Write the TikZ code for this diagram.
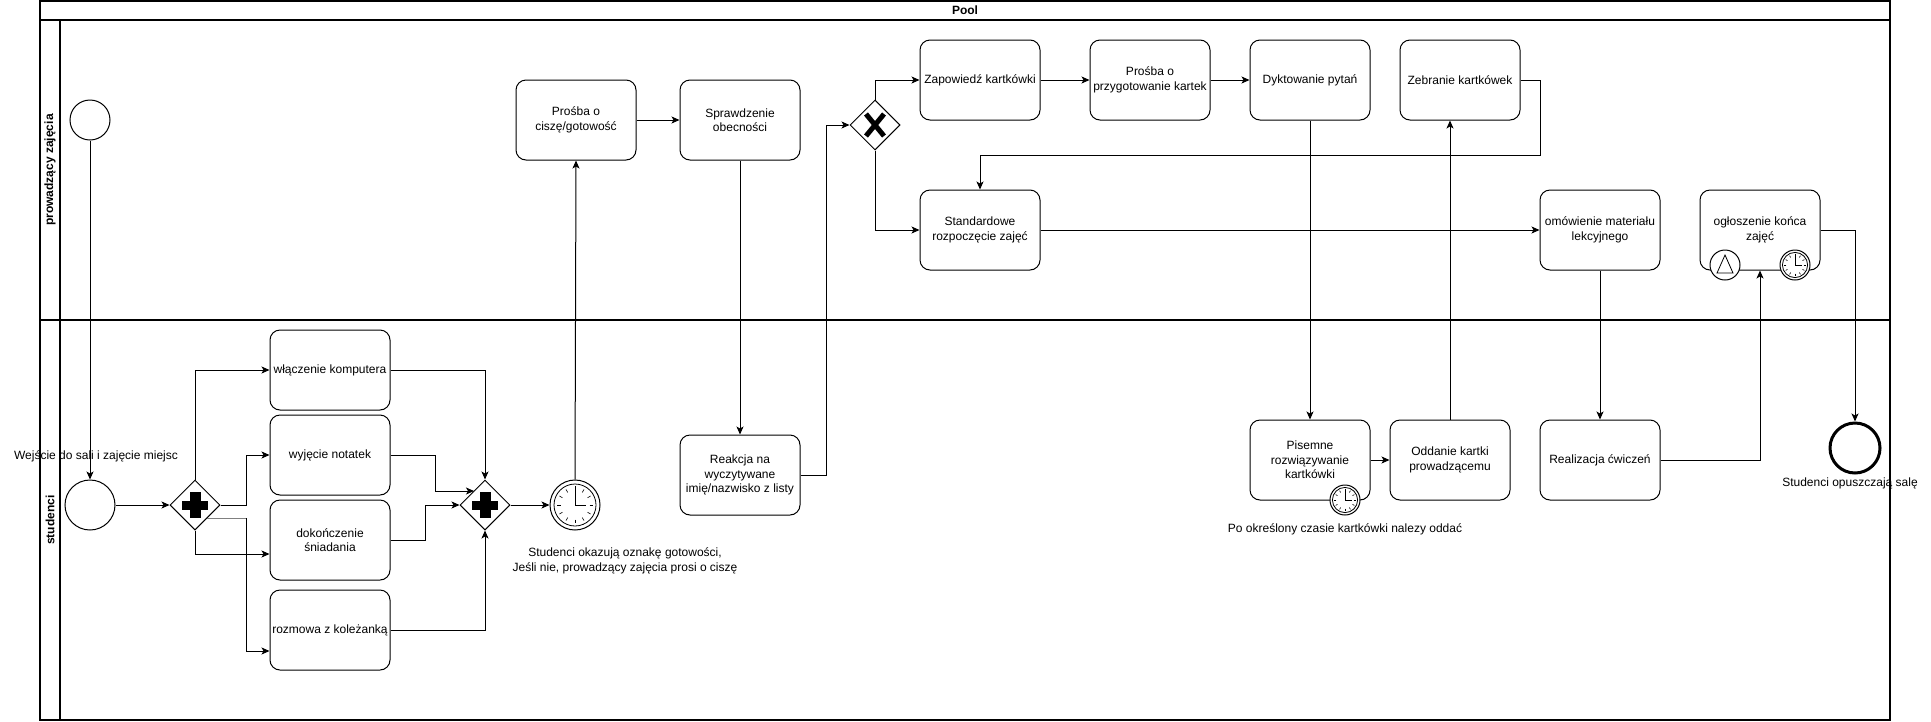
\documentclass[tikz,border=0pt]{standalone}
\usepackage{fontspec}
\setmainfont{Liberation Sans}
\usetikzlibrary{shapes.geometric,arrows.meta,calc}

\tikzset{
  every node/.style={font=\fontsize{12}{14.4}\selectfont},
  task/.style={draw, line width=1pt, rounded corners=10pt, minimum width=120pt,
    minimum height=80pt, inner sep=0pt, align=center, fill=white},
  gate/.style={draw, diamond, line width=1pt, minimum width=50pt,
    minimum height=50pt, inner sep=0pt, fill=white},
  evt/.style={draw, circle, line width=1pt, inner sep=0pt, fill=white},
  txt/.style={align=center, inner sep=0pt},
  lanetitle/.style={font=\fontsize{12}{14.4}\selectfont\bfseries, inner sep=0pt},
  flow/.style={line width=1pt, -{Stealth[length=8pt,width=7pt,inset=2pt]}},
}

% clock face for timer events: node name, outer radius (pt)
\newcommand{\clockdial}[2]{%
  \draw[line width=0.8pt] (#1.center) circle[radius=#2*0.84pt];
  \foreach \a in {0,30,...,330}
    \draw[line width=0.6pt] ($(#1.center)+(\a:#2*0.58pt)$) -- ($(#1.center)+(\a:#2*0.72pt)$);
  \draw[line width=0.9pt] ($(#1.center)+(0pt,#2*0.76pt)$) -- (#1.center) -- ($(#1.center)+(#2*0.45pt,0pt)$);
}
% parallel gateway marker
\newcommand{\plusmark}[1]{%
  \fill ($(#1.center)+(-13,-4.5)$) rectangle ($(#1.center)+(13,4.5)$);
  \fill ($(#1.center)+(-5.5,-13)$) rectangle ($(#1.center)+(5.5,13)$);
}

\begin{document}
\begin{tikzpicture}[x=1pt, y=-1pt]
\useasboundingbox (0,0) rectangle (1931,721);

% pool and lanes
\draw[line width=1.2pt] (40,1) rectangle (1890,720);
\draw[line width=1.2pt] (40,20) -- (1890,20);
\draw[line width=1.2pt] (60,20) -- (60,720);
\draw[line width=1.2pt] (40,320) -- (1890,320);
\node[lanetitle] (pool) at (965,10) {Pool};
\node[lanetitle, rotate=90] (laneA) at (50,170) {prowadzący zajęcia};
\node[lanetitle, rotate=90] (laneB) at (50,520) {studenci};

% lecturer lane
\node[evt, minimum size=40pt] (s0) at (90,120) {};
\node[task] (prosba) at (576,120) {Prośba o\\ciszę/gotowość};
\node[task] (sprawdz) at (740,120) {Sprawdzenie\\obecności};
\node[gate] (xor) at (875,125) {};
\draw[line width=5pt] ($(xor.center)+(-9,-11)$) -- ($(xor.center)+(9,11)$);
\draw[line width=5pt] ($(xor.center)+(9,-11)$) -- ($(xor.center)+(-9,11)$);
\node[task] (zapow) at (980,80) {Zapowiedź kartkówki};
\node[task] (przyg) at (1150,80) {Prośba o\\przygotowanie kartek};
\node[task] (dykt) at (1310,80) {Dyktowanie pytań};
\node[task] (zebr) at (1460,80) {Zebranie kartkówek};
\node[task] (stand) at (980,230) {Standardowe\\rozpoczęcie zajęć};
\node[task] (omow) at (1600,230) {omówienie materiału\\lekcyjnego};
\node[task] (oglo) at (1760,230) {ogłoszenie końca\\zajęć};
\node[evt, minimum size=30pt] (sig) at (1725,265) {};
\draw[line width=0.8pt] ($(sig.center)+(0,-10)$) -- ($(sig.center)+(8,8)$) -- ($(sig.center)+(-8,8)$) -- cycle;
\node[evt, minimum size=30pt] (otimer) at (1795,265) {};
\clockdial{otimer}{15}

% students lane
\node[evt, minimum size=50pt] (s1) at (90,505) {};
\node[txt] (s1lbl) at (96,456) {Wejście do sali i zajęcie miejsc};
\node[gate] (g1) at (195,505) {};
\plusmark{g1}
\node[task] (wlacz) at (330,370) {włączenie komputera};
\node[task] (wyjec) at (330,455) {wyjęcie notatek};
\node[task] (dokon) at (330,540) {dokończenie\\śniadania};
\node[task] (rozm) at (330,630) {rozmowa z koleżanką};
\node[gate] (g2) at (485,505) {};
\plusmark{g2}
\node[evt, minimum size=50pt] (t1) at (575,505) {};
\clockdial{t1}{25}
\node[txt] (t1lbl) at (625,561) {Studenci okazują oznakę gotowości,\\Jeśli nie, prowadzący zajęcia prosi o ciszę};
\node[task] (reakcja) at (740,475) {Reakcja na\\wyczytywane\\imię/nazwisko z listy};
\node[task] (pisemne) at (1310,460) {Pisemne\\rozwiązywanie\\kartkówki};
\node[evt, minimum size=30pt] (ptimer) at (1345,500) {};
\clockdial{ptimer}{15}
\node[txt] (ptlbl) at (1345,529) {Po określony czasie kartkówki nalezy oddać};
\node[task] (oddanie) at (1450,460) {Oddanie kartki\\prowadzącemu};
\node[task] (realiz) at (1600,460) {Realizacja ćwiczeń};
\node[evt, minimum size=50pt, line width=3pt] (e1) at (1855,448) {};
\node[txt] (e1lbl) at (1850,483) {Studenci opuszczają salę};

% sequence flows
\draw[flow] (s0.south) -- (s1.north);
\draw[flow] (s1.east) -- (g1.west);
\draw[flow] (g1.north) |- (wlacz.west);
\draw[flow] (g1.east) -- ++(26,0) |- (wyjec.west);
\coordinate (g1r) at (246,518);
\draw[line width=1pt, gray] ($(g1.center)+(12,13)$) -- (g1r);
\draw[flow] (g1r) |- ($(rozm.west)+(0,21)$);
\draw[flow] (g1.south) |- ($(dokon.west)+(0,14)$);
\draw[flow] (wlacz.east) -| (g2.north);
\draw[flow] (wyjec.east) -- ++(45,0) |- ($(g2.center)+(-11,-14)$);
\draw[flow] (dokon.east) -- ++(35,0) |- (g2.west);
\draw[flow] (rozm.east) -| (g2.south);
\draw[flow] (g2.east) -- (t1.west);
\draw[flow] (t1.north) -- (prosba.south);
\draw[flow] (prosba.east) -- (sprawdz.west);
\draw[flow] (sprawdz.south) -- (reakcja.north);
\draw[flow] (reakcja.east) -- ++(26,0) |- (xor.west);
\draw[flow] (xor.north) |- (zapow.west);
\draw[flow] (xor.south) |- (stand.west);
\draw[flow] (zapow.east) -- (przyg.west);
\draw[flow] (przyg.east) -- (dykt.west);
\draw[flow] (dykt.south) -- (pisemne.north);
\draw[flow] (pisemne.east) -- (oddanie.west);
\draw[flow] (oddanie.north) -- (oddanie.north |- zebr.south);
\draw[flow] (zebr.east) -- ++(20,0) -- ++(0,75) -| (stand.north);
\draw[flow] (stand.east) -- (omow.west);
\draw[flow] (omow.south) -- (realiz.north);
\draw[flow] (realiz.east) -| (oglo.south);
\draw[flow] (oglo.east) -| (e1.north);
\end{tikzpicture}
\end{document}
